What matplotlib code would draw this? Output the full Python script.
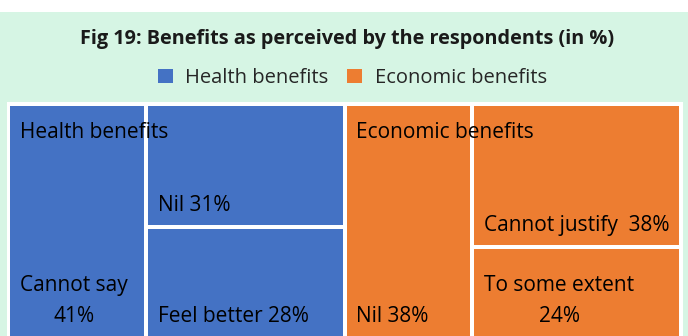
import matplotlib
matplotlib.use("Agg")
import matplotlib.pyplot as plt
from matplotlib.patches import Rectangle, Patch

plt.rcParams['font.family'] = ['Open Sans', 'DejaVu Sans']

# data
groups = ['Health benefits', 'Economic benefits']
group_colors = ['#4472C4', '#ED7D31']
health_labels = ['Cannot say\n41%', 'Nil 31%', 'Feel better 28%']
health_values = [41, 31, 28]
economic_labels = ['Nil 38%', 'Cannot justify  38%', 'To some extent\n24%']
economic_values = [38, 38, 24]

W, H = 688, 336
fig = plt.figure(figsize=(W / 100, H / 100), dpi=100)
fig.patch.set_facecolor('white')
ax = fig.add_axes([0, 0, 1, 1])
ax.set_xlim(0, W)
ax.set_ylim(H, 0)
ax.axis('off')

# mint panel behind everything, white plot area for the treemap
ax.add_patch(Rectangle((0, 12), W, H - 12, facecolor='#D6F5E4', edgecolor='none'))
ax.add_patch(Rectangle((7, 102), 676, H, facecolor='white', edgecolor='none'))

ax.text(W / 2 + 3, 39, 'Fig 19: Benefits as perceived by the respondents (in %)',
        ha='center', va='center', fontsize=14.3, fontweight='bold', color='#1a1a1a')

handles = [Patch(facecolor=c, edgecolor='none') for c in group_colors]
fig.legend(handles, groups, loc='center', bbox_to_anchor=(0.512, 1 - 78 / H),
           ncol=2, frameon=False, fontsize=14.5, handlelength=0.75, handleheight=0.75,
           handletextpad=0.6, columnspacing=0.95, labelcolor='#262626')

# treemap area (pixels) and gap between tiles
x0, x1, y0, y1 = 8, 681, 104, 338
gap = 2
fs = 15


def tile(x, y, w, h, color, label):
    ax.add_patch(Rectangle((x + gap, y + gap), w - 2 * gap, h - 2 * gap,
                           facecolor=color, edgecolor='none'))
    ax.text(x + 12, y + h - 11, label, ha='left', va='bottom', fontsize=fs,
            color='black', multialignment='center', linespacing=1.6)


series = [(health_labels, health_values), (economic_labels, economic_values)]
grand = sum(sum(v) for _, v in series)
gx = x0
for name, color, (labels, values) in zip(groups, group_colors, series):
    gw = (x1 - x0) * sum(values) / grand
    # first item takes a full-height column, the rest stack on the right
    cw = gw * values[0] / sum(values)
    tile(gx, y0, cw, y1 - y0, color, labels[0])
    rest = sum(values[1:])
    ty = y0
    for lab, v in zip(labels[1:], values[1:]):
        th = (y1 - y0) * v / rest
        tile(gx + cw, ty, gw - cw, th, color, lab)
        ty += th
    ax.text(gx + 12, y0 + 28, name, ha='left', va='center', fontsize=fs, color='black')
    gx += gw

fig.savefig('out.png', dpi=100, facecolor='white')
